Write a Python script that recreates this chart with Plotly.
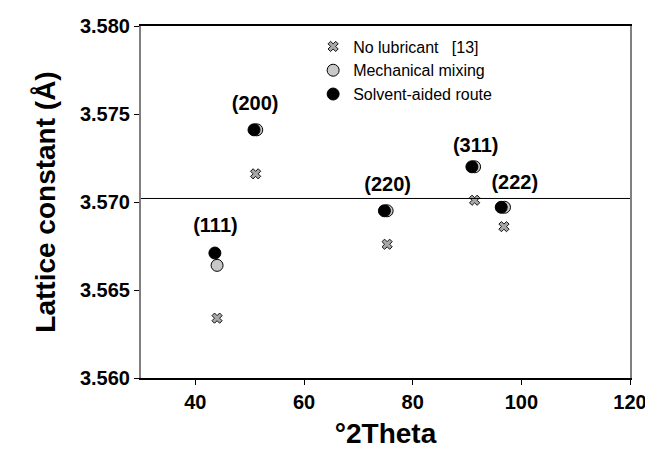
import plotly.graph_objects as go

# Data
peaks = ["(111)", "(200)", "(220)", "(311)", "(222)"]

x_nolub = [44.0, 51.1, 75.3, 91.4, 96.8]
y_nolub = [3.5634, 3.5716, 3.5676, 3.5701, 3.5686]

x_mech = [44.0, 51.3, 75.3, 91.4, 96.9]
y_mech = [3.5664, 3.5741, 3.5695, 3.5720, 3.5697]

x_solv = [43.6, 50.8, 74.8, 90.9, 96.3]
y_solv = [3.5671, 3.5741, 3.5695, 3.5720, 3.5697]

label_x = [43.7, 51.0, 75.4, 91.6, 98.8]
label_y = [3.5686, 3.5755, 3.5709, 3.5731, 3.5710]

ref_line = 3.5702

FONT = "Arial, Liberation Sans, sans-serif"

fig = go.Figure()
fig.add_trace(go.Scatter(
    x=x_nolub, y=y_nolub, mode="markers", name="No lubricant   [13]",
    marker=dict(symbol="x", size=9, color="#a8a8a8", line=dict(color="#111111", width=1)),
))
fig.add_trace(go.Scatter(
    x=x_mech, y=y_mech, mode="markers", name="Mechanical mixing",
    marker=dict(symbol="circle", size=12, color="#c8c8c8", line=dict(color="#000000", width=1)),
))
fig.add_trace(go.Scatter(
    x=x_solv, y=y_solv, mode="markers", name="Solvent-aided route",
    marker=dict(symbol="circle", size=12, color="#000000", line=dict(color="#000000", width=1)),
))
fig.add_trace(go.Scatter(
    x=label_x, y=label_y, mode="text", text=["<b>" + p + "</b>" for p in peaks],
    showlegend=False,
    textfont=dict(family=FONT, size=20, color="#000000"),
    hoverinfo="skip",
))

fig.add_hline(y=ref_line, line=dict(color="#000000", width=1))

fig.update_layout(
    width=653, height=456,
    margin=dict(l=133, r=31, t=18, b=86),
    paper_bgcolor="white", plot_bgcolor="white",
    font=dict(family=FONT, color="#000000"),
    legend=dict(
        x=0.352, y=0.99, xanchor="left", yanchor="top",
        bgcolor="rgba(0,0,0,0)", font=dict(family=FONT, size=16),
        tracegroupgap=0,
    ),
)
fig.update_xaxes(
    range=[30, 120], tickvals=[40, 60, 80, 100, 120],
    showgrid=False, zeroline=False, automargin=False,
    showline=True, linecolor="#000000", linewidth=1.5, mirror=True,
    ticks="outside", ticklen=5, tickcolor="#000000",
    tickfont=dict(family=FONT, size=20, color="#000000", weight="bold"),
    title=dict(text="<b>°2Theta</b>", font=dict(family=FONT, size=28), standoff=12),
)
fig.update_yaxes(
    range=[3.560, 3.580], tickvals=[3.560, 3.565, 3.570, 3.575, 3.580],
    tickformat=".3f",
    showgrid=False, zeroline=False, automargin=False,
    showline=True, linecolor="#808080", linewidth=2, mirror=True,
    ticks="outside", ticklen=5, tickcolor="#000000",
    tickfont=dict(family=FONT, size=20, color="#000000", weight="bold"),
    title=dict(text="<b>Lattice constant (Å)</b>", font=dict(family=FONT, size=28), standoff=16),
)

fig.write_html("out.html")
